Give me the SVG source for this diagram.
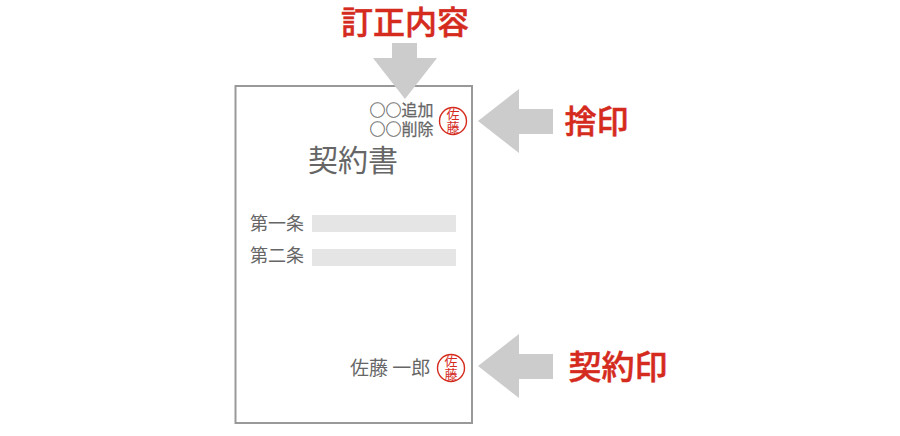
<svg xmlns="http://www.w3.org/2000/svg" width="900" height="436" viewBox="0 0 900 436">
<style>
text{font-family:"Noto Sans CJK JP","Noto Sans",sans-serif}
.r{fill:#d52b1e;font-weight:500;font-size:32px;text-anchor:middle;stroke:#d52b1e;stroke-width:.5}
.g{fill:#666;font-size:18px}
.e{fill:#666;font-size:16px;text-anchor:end;stroke:#666;stroke-width:.25}
.arrow{fill:#ccc}
.bar{fill:#e5e5e5}
.ring{fill:none;stroke:#d52b1e;stroke-width:1.4}
.s{fill:#d52b1e;font-size:13px;text-anchor:middle}
</style>
<rect width="900" height="436" fill="#fff"/>
<g id="document">
<rect x="235.500" y="86" width="236.500" height="337" fill="#fff" stroke="#999" stroke-width="2"/>
<text x="353" y="171" text-anchor="middle" fill="#666" font-size="30">契約書</text>
<text class="g" x="250" y="230">第一条</text>
<rect class="bar" x="312" y="215" width="144" height="17"/>
<text class="g" x="250" y="262">第二条</text>
<rect class="bar" x="312" y="249" width="144" height="17"/>
</g>
<g id="edits">
<text class="e"><tspan x="433.500" y="115.500">○○追加</tspan><tspan x="433.500" y="134.500">○○削除</tspan></text>
</g>
<g id="seal-top">
<circle class="ring" cx="453" cy="121" r="13.500"/>
<text class="s"><tspan x="453" y="119">佐</tspan><tspan x="453" y="132">藤</tspan></text>
</g>
<g id="signature">
<text class="g" x="350" y="375" style="font-size:19px">佐藤 一郎</text>
</g>
<g id="seal-bottom">
<circle class="ring" cx="451" cy="368" r="13.500"/>
<text class="s"><tspan x="451" y="366">佐</tspan><tspan x="451" y="379">藤</tspan></text>
</g>
<g id="connectors">
<polygon class="arrow" points="392,43 417,43 417,58 437,58 405,99 373,58 392,58"/>
<polygon class="arrow" points="478,121 519,89 519,109 553,109 553,134 519,134 519,153"/>
<polygon class="arrow" points="478,366 519,334 519,354 553,354 553,379 519,379 519,398"/>
</g>
<g id="label-correction"><text class="r" x="405" y="34">訂正内容</text></g>
<g id="label-sute"><text class="r" x="596.500" y="133">捨印</text></g>
<g id="label-keiyaku"><text class="r" x="618" y="379" style="font-size:33px">契約印</text></g>
</svg>
